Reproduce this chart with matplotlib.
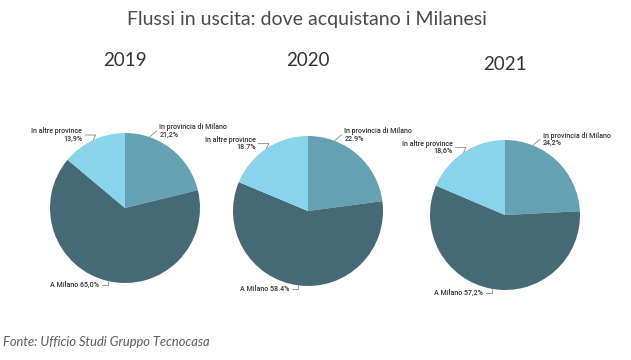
import math
import matplotlib.pyplot as plt

# data
years = ["2019", "2020", "2021"]
categories = ["In provincia di Milano", "A Milano", "In altre province"]
values = [[21.2, 65.0, 13.9], [22.9, 58.4, 18.7], [24.2, 57.2, 18.6]]
decimal_sep = [",", ".", ","]

colors = ["#65a1b2", "#456a75", "#88d4ec"]

W, H = 631, 360
fig = plt.figure(figsize=(W / 100, H / 100), dpi=100)

# pie centres / radius in pixels (top-left origin)
centres = [(125, 208), (308, 211), (505, 215)]
radius = 75
year_y = [60, 60, 65]

# label layout: where on the wedge the leader touches, text offset (px), alignment, leader angle
anchor_frac = [0.75, 0.5, 0.5]
text_off = [(10, 6), (-9, -4), (-11, 5)]
text_ha = ["left", "right", "right"]
leader_b = [40, 90, 65]

lab_font = dict(family="Roboto", fontsize=5.1, color="#333333", fontweight="medium")

for i, year in enumerate(years):
    cx, cy = centres[i]
    ax = fig.add_axes([(cx - radius) / W, (H - cy - radius) / H, 2 * radius / W, 2 * radius / H])
    wedges, _ = ax.pie(values[i], colors=colors, startangle=90, counterclock=False,
                       radius=1, wedgeprops=dict(linewidth=0))
    ax.set_xlim(-1, 1)
    ax.set_ylim(-1, 1)
    ax.axis("off")

    for j, w in enumerate(wedges):
        ang = w.theta1 + anchor_frac[j] * (w.theta2 - w.theta1)
        x = math.cos(math.radians(ang))
        y = math.sin(math.radians(ang))
        pct = f"{values[i][j]:.1f}%".replace(".", decimal_sep[i])
        if categories[j] == "A Milano":
            txt = f"{categories[j]} {pct}"
        else:
            txt = f"{categories[j]}\n{pct}"
        dx, dy = text_off[j]
        ax.annotate(txt, xy=(x, y), xytext=(dx * 0.72, dy * 0.72), textcoords="offset points",
                    ha=text_ha[j], va="center", linespacing=0.95,
                    arrowprops=dict(arrowstyle="-", color="#8a8a8a", lw=0.6,
                                    shrinkA=0, shrinkB=0,
                                    relpos=(0 if text_ha[j] == "left" else 1, 0.5),
                                    connectionstyle=f"angle,angleA=0,angleB={leader_b[j]},rad=0"),
                    **lab_font)

    fig.text(cx / W, 1 - year_y[i] / H, year, ha="center", va="center",
             fontsize=13.5, color="#333333", family="Lato")

fig.text(307 / W, 1 - 20 / H, "Flussi in uscita: dove acquistano i Milanesi",
         ha="center", va="center", fontsize=14, color="#4a4a4a", family="Lato")
fig.text(3 / W, 1 - 342 / H, "Fonte: Ufficio Studi Gruppo Tecnocasa", ha="left", va="center",
         fontsize=9.3, style="italic", color="#5a5a5a", family="Lato")

fig.savefig("out.png", dpi=100)
